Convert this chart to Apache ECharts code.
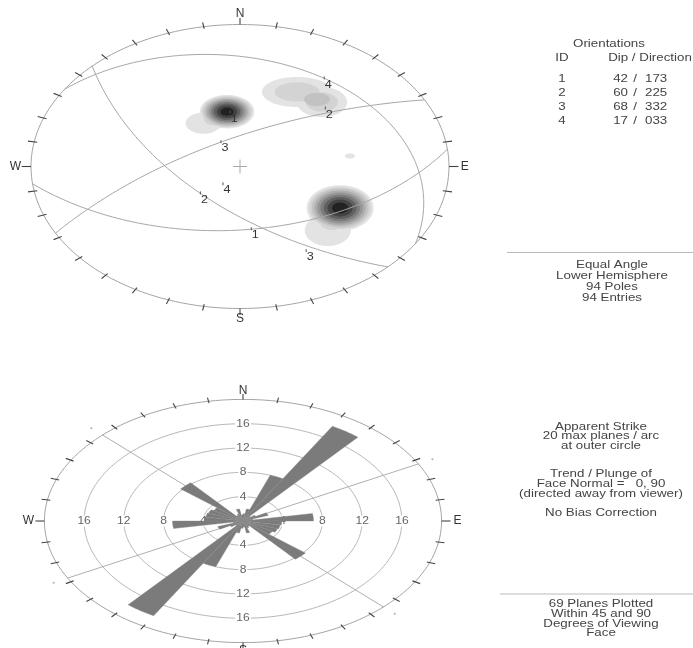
<!DOCTYPE html>
<html><head><meta charset="utf-8">
<script src="https://cdn.jsdelivr.net/npm/echarts@6/dist/echarts.min.js"></script>
<style>html,body{margin:0;padding:0;background:#fff}#c{width:693px;height:648px}</style>
</head><body><div id="c"></div>
<script>
// ---------------- DATA ----------------
// planes (dip / dip direction)
const planeIds = [1, 2, 3, 4];
const planeDips = [42, 60, 68, 17];
const planeDipDirs = [173, 225, 332, 33];

// stereonet compass labels
const compassLabels = ['N', 'E', 'S', 'W'];
const compassAz = [0, 90, 180, 270];

// pole density: [east, north, radiusE, radiusN, fromLevel, toLevel], net-radius units
const densityKernels = [
  [-0.062, 0.386, 0.130, 0.118, 1, 9],
  [-0.175, 0.305, 0.085, 0.075, 1, 1],
  [-0.125, 0.335, 0.075, 0.070, 1, 2],
  [0.273, 0.525, 0.168, 0.106, 1, 2],
  [0.392, 0.454, 0.120, 0.106, 1, 2],
  [0.368, 0.472, 0.062, 0.046, 3, 3],
  [0.479, -0.292, 0.160, 0.160, 1, 9],
  [0.420, -0.450, 0.110, 0.110, 1, 1],
  [0.440, -0.390, 0.090, 0.090, 1, 2],
  [0.526, 0.074, 0.024, 0.018, 1, 1]
];
const densityLevelColors = ['#e3e3e3', '#d3d3d3', '#c2c2c2', '#adadad', '#969696', '#7c7c7c', '#606060', '#434343', '#222222'];

// rose diagram: apparent strike counts per 10-degree bin (0..170, mirrored to 180..350)
const roseBinWidth = 10;
const roseBinStarts = [0, 10, 20, 30, 40, 50, 60, 70, 80, 90, 100, 110, 120, 130, 140, 150, 160, 170];
const roseCounts = [1.2, 2, 8, 18, 1, 1.5, 2.7, 1, 7.1, 3.9, 3.8, 3.7, 3.4, 8.2, 1, 1.2, 2, 1];
const roseRings = [4, 8, 12, 16];
const roseMax = 20;
const roseMinStrikeDip = 45;

// info panel texts
const orientTitle = 'Orientations';
const orientHeaders = ['ID', 'Dip / Direction'];
const stereoInfo = ['Equal Angle', 'Lower Hemisphere', '94 Poles', '94 Entries'];
const roseInfo1 = ['Apparent Strike', '20 max planes / arc', 'at outer circle'];
const roseInfo2 = ['Trend / Plunge of', 'Face Normal =   0, 90', '(directed away from viewer)'];
const roseInfo3 = ['No Bias Correction'];
const roseInfo4 = ['69 Planes Plotted', 'Within 45 and 90', 'Degrees of Viewing', 'Face'];

// ---------------- HELPERS ----------------
const D2R = Math.PI / 180;
const FONT = "'Liberation Sans', Arial, sans-serif";
function stereo(trend, plunge) {
  const r = Math.tan((90 - plunge) / 2 * D2R);
  return [r * Math.sin(trend * D2R), r * Math.cos(trend * D2R)];
}
function greatCircle(dipDir, dip) {
  const a = dipDir * D2R, d = dip * D2R;
  const s = [Math.sin(a - Math.PI / 2), Math.cos(a - Math.PI / 2), 0];
  const v = [Math.cos(d) * Math.sin(a), Math.cos(d) * Math.cos(a), Math.sin(d)];
  const pts = [];
  for (let t = 0; t <= 180; t += 1) {
    const c = Math.cos(t * D2R), sn = Math.sin(t * D2R);
    const e = c * s[0] + sn * v[0], n = c * s[1] + sn * v[1], dn = c * s[2] + sn * v[2];
    pts.push([e / (1 + dn), n / (1 + dn)]);
  }
  return pts;
}
function circlePts(r) {
  const p = [];
  for (let a = 0; a <= 360; a += 2) p.push([r * Math.sin(a * D2R), r * Math.cos(a * D2R)]);
  return p;
}
function pad3(n) { return String(n).padStart(3, '0'); }

// ---------------- SERIES ----------------
const series = [];
// density contours
const densityItems = [];
for (let L = 1; L <= densityLevelColors.length; L++) {
  densityKernels.forEach((k, i) => { if (L >= k[4] && L <= k[5]) densityItems.push([k[0], k[1], i, L]); });
}
series.push({
  type: 'custom', xAxisIndex: 0, yAxisIndex: 0, z: 1, silent: true, data: densityItems,
  renderItem(params, api) {
    const k = densityKernels[api.value(2)], L = api.value(3);
    const f = Math.pow((k[5] - L + 1) / (k[5] - k[4] + 1), 0.65);
    const c = api.coord([k[0], k[1]]);
    const sz = api.size([k[2] * f, k[3] * f]);
    const pts = [];
    for (let j = 0; j < 60; j++) {
      const t = j / 60 * 2 * Math.PI;
      pts.push([c[0] + sz[0] * Math.cos(t), c[1] + sz[1] * Math.sin(t)]);
    }
    return { type: 'polygon', shape: { points: pts }, style: { fill: densityLevelColors[L - 1] } };
  }
});
// primitive circle
series.push({ type: 'line', xAxisIndex: 0, yAxisIndex: 0, z: 2, silent: true, symbol: 'none',
  data: circlePts(1), lineStyle: { color: '#a4a4a4', width: 1 } });
// great circles
planeIds.forEach((id, i) => {
  series.push({ type: 'line', xAxisIndex: 0, yAxisIndex: 0, z: 2, silent: true, symbol: 'none',
    data: greatCircle(planeDipDirs[i], planeDips[i]), lineStyle: { color: '#a6a6a6', width: 1 } });
});
// primitive ticks
const tickAz = [];
for (let a = 0; a < 360; a += 10) tickAz.push([0, 0, a]);
series.push({
  type: 'custom', xAxisIndex: 0, yAxisIndex: 0, z: 3, silent: true, data: tickAz,
  renderItem(params, api) {
    const az = api.value(2) * D2R;
    const card = api.value(2) % 90 === 0;
    const r0 = card ? 1.0 : 0.985, r1 = card ? 1.045 : 1.03;
    const p0 = api.coord([r0 * Math.sin(az), r0 * Math.cos(az)]);
    const p1 = api.coord([r1 * Math.sin(az), r1 * Math.cos(az)]);
    return { type: 'line', shape: { x1: p0[0], y1: p0[1], x2: p1[0], y2: p1[1] }, style: { stroke: '#444', lineWidth: 1.1 } };
  }
});
// centre cross
series.push({
  type: 'custom', xAxisIndex: 0, yAxisIndex: 0, z: 3, silent: true, data: [[0, 0]],
  renderItem(params, api) {
    const c = api.coord([0, 0]);
    return { type: 'group', children: [
      { type: 'line', shape: { x1: c[0] - 7, y1: c[1], x2: c[0] + 7, y2: c[1] }, style: { stroke: '#aaa', lineWidth: 1 } },
      { type: 'line', shape: { x1: c[0], y1: c[1] - 7, x2: c[0], y2: c[1] + 7 }, style: { stroke: '#aaa', lineWidth: 1 } }
    ] };
  }
});
// compass labels
series.push({
  type: 'custom', xAxisIndex: 0, yAxisIndex: 0, z: 4, silent: true,
  data: compassAz.map((a, i) => [0, 0, a, i]),
  renderItem(params, api) {
    const az = api.value(2) * D2R;
    const p = api.coord([1.075 * Math.sin(az), 1.075 * Math.cos(az)]);
    return { type: 'text', x: p[0], y: p[1], style: { text: compassLabels[api.value(3)], fill: '#333', fontSize: 12, fontFamily: FONT, align: 'center', verticalAlign: 'middle' } };
  }
});
// pole and dip-vector labels
const planeMarks = [];
planeIds.forEach((id, i) => {
  const pole = stereo(planeDipDirs[i] + 180, 90 - planeDips[i]);
  const dipv = stereo(planeDipDirs[i], planeDips[i]);
  planeMarks.push([pole[0], pole[1], id]);
  planeMarks.push([dipv[0], dipv[1], id]);
});
series.push({
  type: 'custom', xAxisIndex: 0, yAxisIndex: 0, z: 4, silent: true, data: planeMarks,
  renderItem(params, api) {
    const p = api.coord([api.value(0), api.value(1)]);
    return { type: 'group', children: [
      { type: 'line', shape: { x1: p[0], y1: p[1] - 2, x2: p[0], y2: p[1] + 1 }, style: { stroke: '#555', lineWidth: 1 } },
      { type: 'text', x: p[0] + 4, y: p[1] + 6, scaleX: 1.1, style: { text: String(api.value(2)), fill: '#333', fontSize: 11.5, fontFamily: FONT, align: 'center', verticalAlign: 'middle' } }
    ] };
  }
});

// ----- rose -----
roseRings.concat([roseMax]).forEach(r => {
  series.push({ type: 'line', xAxisIndex: 1, yAxisIndex: 1, z: 1, silent: true, symbol: 'none',
    data: circlePts(r), lineStyle: { color: r === roseMax ? '#a4a4a4' : '#b8b8b8', width: 1 } });
});
// strike lines of steep planes
const strikeDots = [];
planeIds.forEach((id, i) => {
  if (planeDips[i] < roseMinStrikeDip) return;
  const s = (planeDipDirs[i] - 90) * D2R;
  const ex = Math.sin(s), ny = Math.cos(s);
  series.push({ type: 'line', xAxisIndex: 1, yAxisIndex: 1, z: 1, silent: true, symbol: 'none',
    data: [[-roseMax * ex, -roseMax * ny], [roseMax * ex, roseMax * ny]], lineStyle: { color: '#b0b0b0', width: 1 } });
  strikeDots.push([21.6 * ex, 21.6 * ny], [-21.6 * ex, -21.6 * ny]);
});
series.push({ type: 'scatter', xAxisIndex: 1, yAxisIndex: 1, z: 1, silent: true, symbolSize: 2,
  data: strikeDots, itemStyle: { color: '#999' } });
// ring labels
const ringLabelItems = [];
roseRings.forEach(r => { [0, 90, 180, 270].forEach(a => ringLabelItems.push([r * Math.sin(a * D2R), r * Math.cos(a * D2R), r])); });
series.push({
  type: 'custom', xAxisIndex: 1, yAxisIndex: 1, z: 2, silent: true, data: ringLabelItems,
  renderItem(params, api) {
    const p = api.coord([api.value(0), api.value(1)]);
    return { type: 'text', x: p[0], y: p[1], scaleX: 1.15, style: { text: String(api.value(2)), fill: '#666', fontSize: 10.5, fontFamily: FONT, align: 'center', verticalAlign: 'middle', backgroundColor: '#fff', padding: [0, 1] } };
  }
});
// petals
const petalItems = [];
roseBinStarts.forEach((b, i) => { petalItems.push([b, roseCounts[i]]); petalItems.push([b + 180, roseCounts[i]]); });
series.push({
  type: 'custom', xAxisIndex: 1, yAxisIndex: 1, z: 3, silent: true, data: petalItems,
  renderItem(params, api) {
    const a0 = api.value(0), v = api.value(1);
    const pts = [api.coord([0, 0])];
    for (let j = 0; j <= 10; j++) {
      const az = (a0 + j * roseBinWidth / 10) * D2R;
      pts.push(api.coord([v * Math.sin(az), v * Math.cos(az)]));
    }
    return { type: 'polygon', shape: { points: pts }, style: { fill: '#7b7b7b', stroke: '#8a8a8a', lineWidth: 0.4 } };
  }
});
// rose ticks
series.push({
  type: 'custom', xAxisIndex: 1, yAxisIndex: 1, z: 4, silent: true, data: tickAz,
  renderItem(params, api) {
    const az = api.value(2) * D2R;
    const card = api.value(2) % 90 === 0;
    const r0 = card ? 20 : 19.7, r1 = card ? 20.9 : 20.6;
    const p0 = api.coord([r0 * Math.sin(az), r0 * Math.cos(az)]);
    const p1 = api.coord([r1 * Math.sin(az), r1 * Math.cos(az)]);
    return { type: 'line', shape: { x1: p0[0], y1: p0[1], x2: p1[0], y2: p1[1] }, style: { stroke: '#444', lineWidth: 1.1 } };
  }
});
series.push({
  type: 'custom', xAxisIndex: 1, yAxisIndex: 1, z: 4, silent: true,
  data: compassAz.map((a, i) => [0, 0, a, i]),
  renderItem(params, api) {
    const az = api.value(2) * D2R;
    const p = api.coord([21.6 * Math.sin(az), 21.4 * Math.cos(az)]);
    return { type: 'text', x: p[0], y: p[1], style: { text: compassLabels[api.value(3)], fill: '#333', fontSize: 12, fontFamily: FONT, align: 'center', verticalAlign: 'middle' } };
  }
});

// ---------------- PANEL TEXT ----------------
const graphic = [];
function txt(x, y, text, align) {
  graphic.push({ type: 'text', x: x, y: y, scaleX: 1.27, silent: true,
    style: { text: text, fill: '#444', fontSize: 10.5, fontFamily: FONT, align: align || 'center', verticalAlign: 'middle' } });
}
txt(609, 44, orientTitle);
txt(562, 58, orientHeaders[0]);
txt(650, 58, orientHeaders[1]);
planeIds.forEach((id, i) => {
  const y = 79.3 + i * 14.1;
  txt(562, y, String(id));
  txt(628, y, String(planeDips[i]), 'right');
  txt(635, y, '/');
  txt(645, y, pad3(planeDipDirs[i]), 'left');
});
graphic.push({ type: 'line', silent: true, shape: { x1: 507, y1: 252.5, x2: 693, y2: 252.5 }, style: { stroke: '#bbb', lineWidth: 1 } });
stereoInfo.forEach((t, i) => txt(612, 265.3 + i * 10.8, t));
roseInfo1.forEach((t, i) => txt(601, 426.7 + i * 9.7, t));
roseInfo2.forEach((t, i) => txt(601, 474 + i * 10, t));
roseInfo3.forEach((t, i) => txt(601, 512.7 + i * 10, t));
graphic.push({ type: 'line', silent: true, shape: { x1: 500, y1: 594, x2: 693, y2: 594 }, style: { stroke: '#bbb', lineWidth: 1 } });
roseInfo4.forEach((t, i) => txt(601, 604.3 + i * 9.7, t));

// ---------------- CHART ----------------
const chart = echarts.init(document.getElementById('c'), null, { renderer: 'canvas' });
const ax = (min, max, gi) => ({ type: 'value', min: min, max: max, gridIndex: gi, show: false });
chart.setOption({
  animation: false,
  backgroundColor: '#fff',
  grid: [
    { left: 31, top: 24.5, width: 418, height: 284 },
    { left: 44.4, top: 399.4, width: 397.2, height: 243.2 }
  ],
  xAxis: [ax(-1, 1, 0), ax(-roseMax, roseMax, 1)],
  yAxis: [ax(-1, 1, 0), ax(-roseMax, roseMax, 1)],
  series: series,
  graphic: graphic
});
</script>
</body></html>
